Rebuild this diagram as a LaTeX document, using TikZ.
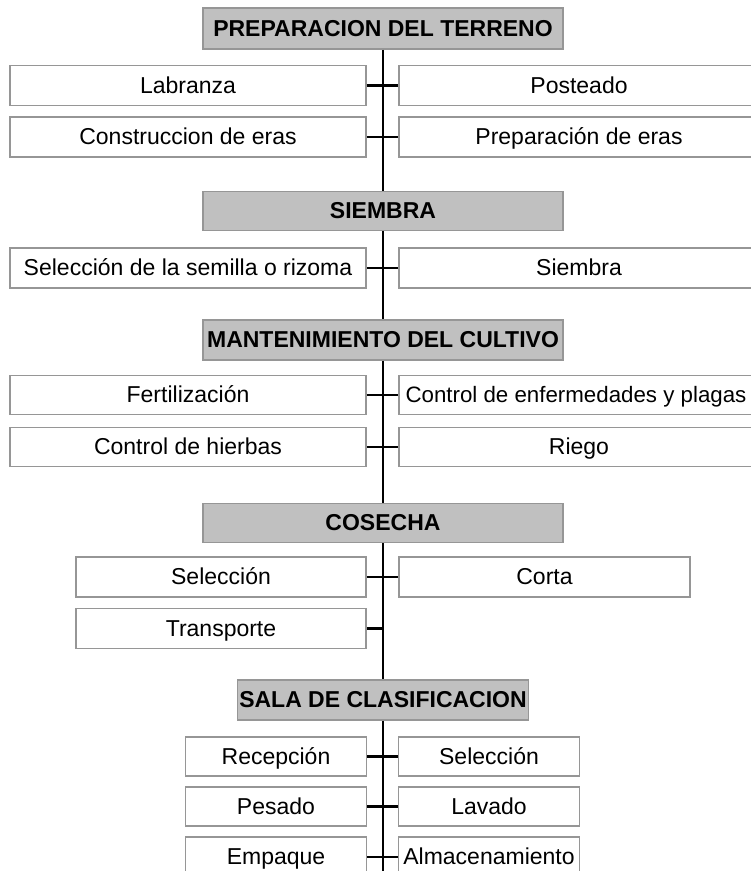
\documentclass[tikz,border=0pt]{standalone}
\usepackage{fontspec}
\setmainfont{Liberation Sans}
\definecolor{boxline}{RGB}{150,150,150}
\definecolor{headfill}{RGB}{192,192,192}
\begin{document}
\begin{tikzpicture}[x=1pt,y=-1pt,
  base/.style={draw=boxline,line width=1.6pt,inner sep=0pt,
    text height=18pt,text depth=3pt,
    font=\fontsize{23}{27}\selectfont,text=black},
  headbox/.style={base,fill=headfill,font=\fontsize{23}{27}\selectfont\bfseries},
  subbox/.style={base,fill=white},
  spine/.style={line width=2.4pt,black},
  tick/.style={line width=2.2pt,black}]
\useasboundingbox (0,0) rectangle (751,871);
\clip (0,0) rectangle (751,871);
% headers
\node[headbox,minimum width=360,minimum height=41] (h1) at (383,28.5) {PREPARACION DEL TERRENO};
\node[headbox,minimum width=360,minimum height=39] (h2) at (383,211) {SIEMBRA};
\node[headbox,minimum width=360,minimum height=40] (h3) at (383,340) {MANTENIMIENTO DEL CULTIVO};
\node[headbox,minimum width=360,minimum height=39] (h4) at (383,523) {COSECHA};
\node[headbox,minimum width=291,minimum height=40] (h5) at (383,700) {SALA DE CLASIFICACION};
\coordinate (bot) at (383,880);
% spine
\draw[spine] (h1.south) -- (h2.north);
\draw[spine] (h2.south) -- (h3.north);
\draw[spine] (h3.south) -- (h4.north);
\draw[spine] (h4.south) -- (h5.north);
\draw[spine] (h5.south) -- (bot);
% section 1
\node[subbox,minimum width=356,minimum height=40] (lab) at (188,85.5) {Labranza};
\node[subbox,minimum width=360,minimum height=40] (pos) at (579,85.5) {Posteado};
\node[subbox,minimum width=356,minimum height=40] (con) at (188,137) {Construccion de eras};
\node[subbox,minimum width=360,minimum height=40] (pre) at (579,137) {Preparación de eras};
\draw[tick] (lab.east) -- (pos.west);
\draw[tick] (con.east) -- (pre.west);
% section 2
\node[subbox,minimum width=356,minimum height=40] (sel) at (188,268) {Selección de la semilla o rizoma};
\node[subbox,minimum width=360,minimum height=40] (sie) at (579,268) {Siembra};
\draw[tick] (sel.east) -- (sie.west);
% section 3
\node[subbox,minimum width=356,minimum height=39] (fer) at (188,395) {Fertilización};
\node[subbox,minimum width=360,minimum height=39,font=\fontsize{22.3}{27}\selectfont] (cep) at (579,395) {\hspace*{-6pt}Control de enfermedades y plagas};
\node[subbox,minimum width=356,minimum height=39] (chi) at (188,447) {Control de hierbas};
\node[subbox,minimum width=360,minimum height=39] (rie) at (579,447) {Riego};
\draw[tick] (fer.east) -- (cep.west);
\draw[tick] (chi.east) -- (rie.west);
% section 4
\node[subbox,minimum width=290,minimum height=40] (csel) at (221,577) {Selección};
\node[subbox,minimum width=291,minimum height=40] (cor) at (544.5,577) {Corta};
\node[subbox,minimum width=290,minimum height=40] (tra) at (221,628.5) {Transporte};
\coordinate (traend) at (383,628.5);
\draw[tick] (csel.east) -- (cor.west);
\draw[tick] (tra.east) -- (traend);
% section 5
\node[subbox,minimum width=181,minimum height=39] (rec) at (276,756.5) {Recepción};
\node[subbox,minimum width=181,minimum height=39] (ssel) at (489,756.5) {Selección};
\node[subbox,minimum width=181,minimum height=39] (pes) at (276,806.5) {Pesado};
\node[subbox,minimum width=181,minimum height=39] (lav) at (489,806.5) {Lavado};
\node[subbox,minimum width=181,minimum height=40] (emp) at (276,857) {Empaque};
\node[subbox,minimum width=181,minimum height=40] (alm) at (489,857) {Almacenamiento};
\draw[tick] (rec.east) -- (ssel.west);
\draw[tick] (pes.east) -- (lav.west);
\draw[tick] (emp.east) -- (alm.west);
\end{tikzpicture}
\end{document}
